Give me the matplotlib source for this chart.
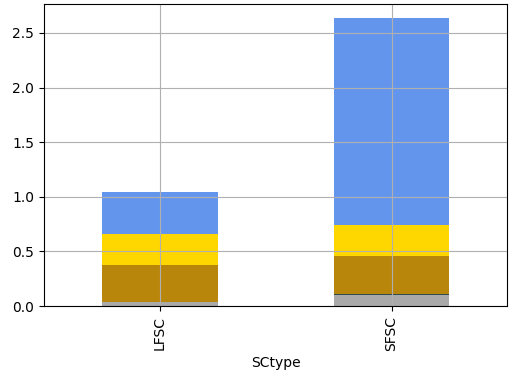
import matplotlib
matplotlib.use("Agg")
import matplotlib.pyplot as plt
import numpy as np

# stacked components per SC type
sc_types = ["LFSC", "SFSC"]
seg_gray = [0.035, 0.105]
seg_slate = [0.0, 0.007]
seg_brown = [0.343, 0.346]
seg_gold = [0.282, 0.281]
seg_blue = [0.387, 1.896]

segments = [
    (seg_gray, "darkgray"),
    (seg_slate, "darkslategray"),
    (seg_brown, "darkgoldenrod"),
    (seg_gold, "gold"),
    (seg_blue, "cornflowerblue"),
]

fig = plt.figure(figsize=(5.22, 3.75), dpi=100)
ax = fig.add_axes([0.084, 0.184, 0.888, 0.806])

x = np.arange(len(sc_types))
bottom = np.zeros(len(sc_types))
for vals, color in segments:
    ax.bar(x, vals, width=0.5, bottom=bottom, color=color, linewidth=0)
    bottom += np.array(vals)

ax.set_xlim(-0.5, len(sc_types) - 0.5)
ax.set_ylim(0, bottom.max() * 1.05)
ax.set_xticks(x)
ax.set_xticklabels(sc_types, rotation=90)
ax.set_xlabel("SCtype")
ax.grid(True)

fig.savefig("out.png", dpi=100)
